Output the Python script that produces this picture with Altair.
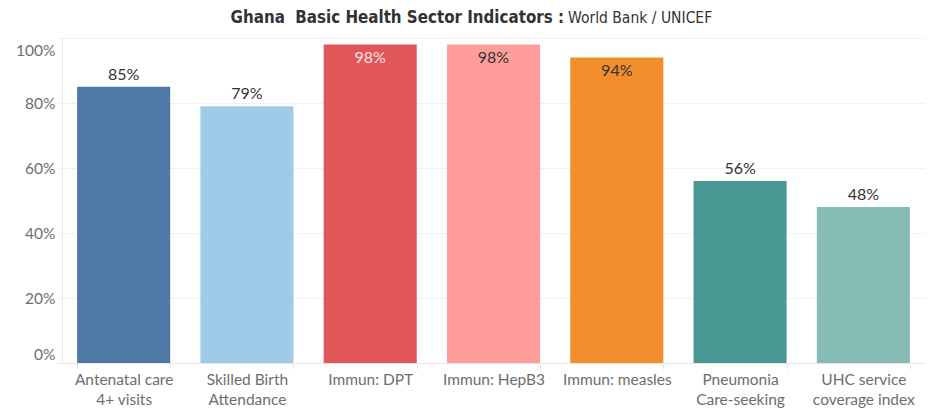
import altair as alt
import pandas as pd

categories = ["Antenatal care|4+ visits", "Skilled Birth|Attendance", "Immun: DPT",
              "Immun: HepB3", "Immun: measles", "Pneumonia|Care-seeking",
              "UHC service|coverage index"]
values = [0.85, 0.79, 0.98, 0.98, 0.94, 0.56, 0.48]
colors = ["#4e79a7", "#a0cbe8", "#e15759", "#ff9d9a", "#f28e2b", "#499894", "#86bcb6"]
label_colors = ["#333333", "#333333", "#ffe3e3", "#333333", "#333333", "#333333", "#333333"]

df = pd.DataFrame({"cat": categories, "value": values, "lc": label_colors})

FONT = "Lato"
TFONT = "'Liberation Sans Narrow', 'DejaVu Sans Condensed', sans-serif"

x = alt.X("cat:N", sort=categories, title=None,
          scale=alt.Scale(paddingInner=0.245, paddingOuter=0.1225),
          axis=alt.Axis(labelAngle=0, labelExpr="split(datum.label, '|')",
                        labelColor="#6e6e6e", labelFontSize=15.5, labelFont=FONT,
                        labelLineHeight=20, labelPadding=3, tickBand="extent",
                        tickColor="#e6e6e6", tickSize=6, domainColor="#e6e6e6",
                        labelBaseline="top"))
y = alt.Y("value:Q", title=None,
          scale=alt.Scale(domain=[0, 1], nice=False),
          axis=alt.Axis(values=[0, 0.2, 0.4, 0.6, 0.8, 1.0], format=".0%",
                        labelColor="#6e6e6e", labelFontSize=15.5, labelFont=FONT,
                        gridColor="#f0f0f0", domainColor="#ebebeb", tickColor="#f0f0f0",
                        tickSize=5, labelPadding=2, labelFlush=False,
                        labelOffset={"condition": [{"test": "datum.value == 0", "value": -9},
                                                   {"test": "datum.value == 1", "value": 12}],
                                     "value": 0}))

base = alt.Chart(df)

bars = base.mark_bar().encode(
    x=x, y=y,
    color=alt.Color("cat:N", sort=categories, scale=alt.Scale(domain=categories, range=colors), legend=None),
)

outside = base.transform_filter("datum.value < 0.9").mark_text(
    baseline="bottom", dy=-4, fontSize=16, font=FONT, color="#333333"
).encode(x=alt.X("cat:N", sort=categories), y="value:Q", text=alt.Text("value:Q", format=".0%"))

inside = base.transform_filter("datum.value >= 0.9").mark_text(
    baseline="top", dy=5, fontSize=16, font=FONT
).encode(x=alt.X("cat:N", sort=categories), y="value:Q",
         text=alt.Text("value:Q", format=".0%"), color=alt.Color("lc:N", scale=None))

title_bold = alt.Chart(pd.DataFrame({"t": ["Ghana\u00a0\u00a0Basic Health Sector Indicators :"]})).mark_text(
    align="right", baseline="middle", fontSize=16.8, fontWeight="bold", font=TFONT, color="#333333"
).encode(x=alt.value(502), y=alt.value(-20), text="t:N")

title_norm = alt.Chart(pd.DataFrame({"t": ["World Bank / UNICEF"]})).mark_text(
    align="left", baseline="middle", fontSize=15.5, font=TFONT, color="#333333"
).encode(x=alt.value(506), y=alt.value(-20), text="t:N")

chart = alt.layer(bars, outside, inside, title_bold, title_norm).properties(
    width=863, height=325,
    autosize=alt.AutoSizeParams(type="none"),
    padding={"left": 54, "top": 30, "right": 5, "bottom": 46},
    background="white",
).configure_view(stroke=None)

chart.save("out.html", embed_options={"renderer": "svg", "actions": False})
